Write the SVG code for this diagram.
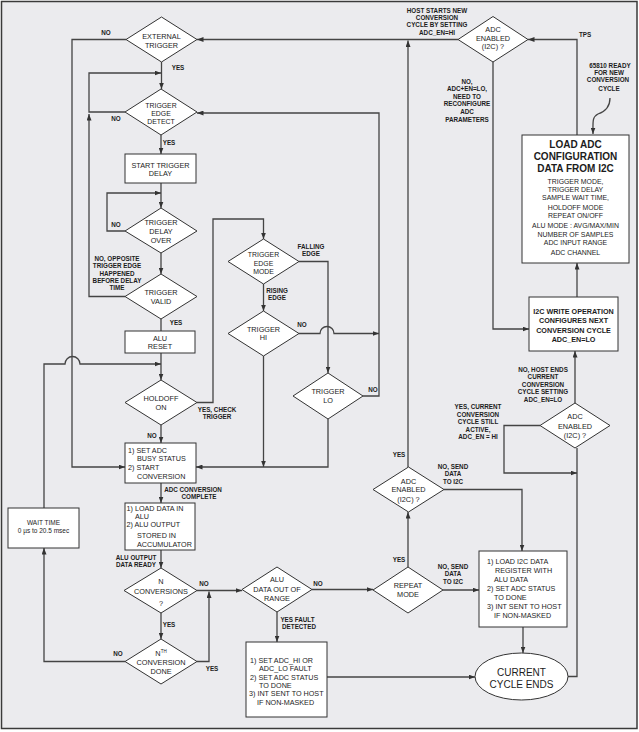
<svg xmlns="http://www.w3.org/2000/svg" width="639" height="732" viewBox="0 0 639 732">
<defs>
<marker id="ah" markerUnits="userSpaceOnUse" markerWidth="7" markerHeight="5" refX="6.5" refY="2.5" orient="auto">
<path d="M0,0 L6.5,2.5 L0,5 z" fill="#333"/>
</marker>
<style>
.bg{fill:#ebebee;stroke:#3a3a3a;stroke-width:1.5}
.nd{fill:#fff;stroke:#333;stroke-width:1}
.c{fill:none;stroke:#444;stroke-width:1.3}
.a{marker-end:url(#ah)}
text{font-family:"Liberation Sans",Arial,sans-serif;fill:#1c1c1c}
.t{font-size:7.3px;text-anchor:middle}
.s{font-size:6.9px}
.tl{font-size:7.2px}
.b{font-size:6.3px;font-weight:bold;text-anchor:middle}
.bt{font-size:7.2px;font-weight:bold;text-anchor:middle}
.h{font-size:10px;font-weight:bold;text-anchor:middle}
.e{font-size:10px;text-anchor:middle}
</style>
</defs>
<rect class="bg" x="1.5" y="1.5" width="635.5" height="727"/>

<g id="connectors">
<path class="c a" d="M458,39.5 H197"/>
<path class="c a" d="M126,39.5 H72 V467 H125"/>
<path class="c a" d="M161.5,62 V89"/>
<path class="c a" d="M125,112 H89 V73 H161"/>
<path class="c a" d="M161,135 V154"/>
<path class="c a" d="M161,183 V208"/>
<path class="c a" d="M125,231 H107 V193 H161"/>
<path class="c a" d="M161,253 V274"/>
<path class="c a" d="M125,296.5 H89 V114"/>
<path class="c" d="M161,319 V331"/>
<path class="c a" d="M161,353 V380"/>
<path class="c a" d="M44,508 V364 H65 A7.5,7.5 0 0 1 80,364 H161"/>
<path class="c a" d="M197,402.5 H213 V219 H263.5 V239"/>
<path class="c a" d="M161,425 V443"/>
<path class="c a" d="M299,261.5 H328 V373"/>
<path class="c a" d="M263.5,284 V311"/>
<path class="c a" d="M299,333.5 H320 A7,7 0 0 1 334,333.5 H379"/>
<path class="c a" d="M363,396 H379 V113 H197"/>
<path class="c a" d="M263.5,356 V467"/>
<path class="c a" d="M328,419 V467 H196"/>
<path class="c a" d="M161,483 V503"/>
<path class="c a" d="M161,550 V568"/>
<path class="c a" d="M197,590.5 H242"/>
<path class="c a" d="M161,613 V639"/>
<path class="c a" d="M197,661.5 H209 V591.5"/>
<path class="c a" d="M125,661.5 H44 V548"/>
<path class="c a" d="M312,589.5 H373"/>
<path class="c a" d="M277,612 V642"/>
<path class="c a" d="M327,677 H475"/>
<path class="c a" d="M408,567 V512"/>
<path class="c a" d="M443,590 H479"/>
<path class="c a" d="M444,489.5 H522 V551"/>
<path class="c a" d="M408,467 V40.5"/>
<path class="c a" d="M523,627 V653"/>
<path class="c" d="M568,676.5 H577 V448"/>
<path class="c a" d="M540,425.5 H504 V473 H577"/>
<path class="c a" d="M575,403 V351"/>
<path class="c a" d="M493,62 V329 H529"/>
<path class="c a" d="M577,297 V263"/>
<path class="c a" d="M577,135 V39.5 H528"/>
<path class="c a" d="M610,98 C610,108 604,112 598,114 C592,117 593,122 593,134"/>
</g>

<g id="ext"><polygon class="nd" points="126,39.5 161.5,17 197,39.5 161.5,62"/>
<text class="t" x="161.5" y="38.6">EXTERNAL</text><text class="t" x="161.5" y="47.9">TRIGGER</text></g>
<g id="ted"><polygon class="nd" points="125,112 161,89 197,112 161,135"/>
<text class="t s" x="161" y="108.4">TRIGGER</text><text class="t s" x="161" y="116">EDGE</text><text class="t s" x="161" y="123.6">DETECT</text></g>
<g id="std"><rect class="nd" x="125" y="154" width="71" height="29"/>
<text class="t" x="160.5" y="167.6">START TRIGGER</text><text class="t" x="160.5" y="176">DELAY</text></g>
<g id="tdo"><polygon class="nd" points="125,231 161,208 197,231 161,253"/>
<text class="t" x="161" y="225.3">TRIGGER</text><text class="t" x="161" y="233.6">DELAY</text><text class="t" x="161" y="242.6">OVER</text></g>
<g id="tv"><polygon class="nd" points="125,296.5 161,274 197,296.5 161,319"/>
<text class="t" x="161" y="295">TRIGGER</text><text class="t" x="161" y="303.6">VALID</text></g>
<g id="alureset"><rect class="nd" x="125" y="331" width="70" height="22"/>
<text class="t" x="160" y="341">ALU</text><text class="t" x="160" y="349">RESET</text></g>
<g id="holdoff"><polygon class="nd" points="125,402.5 161,380 197,402.5 161,425"/>
<text class="t" x="161" y="401">HOLDOFF</text><text class="t" x="161" y="410">ON</text></g>
<g id="setadc"><rect class="nd" x="125" y="443" width="71" height="40"/>
<text class="tl" x="128" y="453.3">1) SET ADC</text><text class="tl" x="137" y="461.2">BUSY STATUS</text>
<text class="tl" x="128" y="470">2) START</text><text class="tl" x="137" y="479.3">CONVERSION</text></g>
<g id="loaddata"><rect class="nd" x="125" y="503" width="70" height="47"/>
<text class="tl" x="126.5" y="511.4">1) LOAD DATA IN</text><text class="tl" x="135" y="519.3">ALU</text>
<text class="tl" x="126.5" y="527.2">2) ALU OUTPUT</text><text class="tl" x="137" y="538.4">STORED IN</text>
<text class="tl" x="137" y="547.2">ACCUMULATOR</text></g>
<g id="nconv"><polygon class="nd" points="124,590.5 161,568 197,590.5 161,613"/>
<text class="t" x="161" y="583.6">N</text><text class="t" x="161" y="594.3">CONVERSIONS</text><text class="t" x="161" y="606">?</text></g>
<g id="nth"><polygon class="nd" points="125,661.5 161,639 197,661.5 161,684"/>
<text class="t" x="161" y="655.8">N<tspan dy="-2.5" font-size="4.5">TH</tspan></text><text class="t" x="161" y="664.5">CONVERSION</text><text class="t" x="161" y="674.3">DONE</text></g>
<g id="wait"><rect class="nd" x="8" y="508" width="71" height="40"/>
<text class="t" x="43.5" y="525" style="font-size:6.5px">WAIT TIME</text><text class="t" x="43.5" y="533.3" style="font-size:6.5px">0 µs to 20.5 msec</text></g>
<g id="alurange"><polygon class="nd" points="242,589.5 277,567 312,589.5 277,612"/>
<text class="t" x="277" y="582.4">ALU</text><text class="t" x="277" y="591.7">DATA OUT OF</text><text class="t" x="277" y="601">RANGE</text></g>
<g id="fault"><rect class="nd" x="246" y="642" width="81" height="75"/>
<text class="tl s" x="250" y="663.3">1) SET ADC_HI OR</text><text class="tl s" x="259" y="671.2">ADC_LO FAULT</text>
<text class="tl s" x="250" y="679.8">2) SET ADC STATUS</text><text class="tl s" x="259" y="687.9">TO DONE</text>
<text class="tl s" x="249" y="696">3) INT SENT TO HOST</text><text class="tl s" x="257" y="705.3">IF NON-MASKED</text></g>
<g id="tem"><polygon class="nd" points="228,261.5 263.5,239 299,261.5 263.5,284"/>
<text class="t s" x="263.5" y="257.4">TRIGGER</text><text class="t s" x="263.5" y="265.5">EDGE</text><text class="t s" x="263.5" y="273.6">MODE</text></g>
<g id="thi"><polygon class="nd" points="228,333.5 263.5,311 299,333.5 263.5,356"/>
<text class="t" x="263.5" y="331.6">TRIGGER</text><text class="t" x="263.5" y="339.6">HI</text></g>
<g id="tlo"><polygon class="nd" points="293,396 328,373 363,396 328,419"/>
<text class="t" x="328" y="393.6">TRIGGER</text><text class="t" x="328" y="402.6">LO</text></g>
<g id="adctop"><polygon class="nd" points="458,39.5 493,16.5 528,39.5 493,62"/>
<text class="t" x="493" y="32">ADC</text><text class="t" x="493" y="40.5">ENABLED</text><text class="t" x="493" y="49.3">(I2C) ?</text></g>
<g id="loadadc"><rect class="nd" x="522" y="135" width="107" height="128"/>
<text class="h" x="575.5" y="147.6">LOAD ADC</text><text class="h" x="575.5" y="159.6">CONFIGURATION</text><text class="h" x="575.5" y="171.6">DATA FROM I2C</text>
<text class="t s" x="575.5" y="184.4">TRIGGER MODE,</text><text class="t s" x="575.5" y="192.2">TRIGGER DELAY</text>
<text class="t s" x="575.5" y="200">SAMPLE WAIT TIME,</text><text class="t s" x="575.5" y="209.8">HOLDOFF MODE</text>
<text class="t s" x="575.5" y="217.7">REPEAT ON/OFF</text><text class="t s" x="575.5" y="228.3">ALU MODE : AVG/MAX/MIN</text>
<text class="t s" x="575.5" y="236.5">NUMBER OF SAMPLES</text><text class="t s" x="575.5" y="244.6">ADC INPUT RANGE</text>
<text class="t s" x="575.5" y="255.3">ADC CHANNEL</text></g>
<g id="i2cwrite"><rect class="nd" x="529" y="297" width="89" height="54"/>
<text class="bt" x="573.5" y="314.3">I2C WRITE OPERATION</text><text class="bt" x="573.5" y="323.3">CONFIGURES NEXT</text>
<text class="bt" x="573.5" y="332.6">CONVERSION CYCLE</text><text class="bt" x="573.5" y="341.6">ADC_EN=LO</text></g>
<g id="adcright"><polygon class="nd" points="540,425.5 575,403 610,425.5 575,448"/>
<text class="t" x="575" y="418.6">ADC</text><text class="t" x="575" y="428.6">ENABLED</text><text class="t" x="575" y="438.3">(I2C) ?</text></g>
<g id="adcmid"><polygon class="nd" points="373,489.5 408.5,467 444,489.5 408.5,512"/>
<text class="t" x="408.5" y="484">ADC</text><text class="t" x="408.5" y="492.3">ENABLED</text><text class="t" x="408.5" y="501.6">(I2C) ?</text></g>
<g id="repeat"><polygon class="nd" points="373,590 408,567 443,590 408,613"/>
<text class="t" x="408" y="587.6">REPEAT</text><text class="t" x="408" y="597">MODE</text></g>
<g id="loadi2c"><rect class="nd" x="479" y="551" width="88" height="76"/>
<text class="tl" x="487" y="563.6">1) LOAD I2C DATA</text><text class="tl" x="495" y="572.6">REGISTER WITH</text>
<text class="tl" x="494" y="581.6">ALU DATA</text><text class="tl" x="487" y="591">2) SET ADC STATUS</text>
<text class="tl" x="494" y="599.8">TO DONE</text><text class="tl" x="487" y="608.6">3) INT SENT TO HOST</text>
<text class="tl" x="494" y="617.6">IF NON-MASKED</text></g>
<g id="cycleends"><ellipse class="nd" cx="521.5" cy="676.5" rx="46.5" ry="23.5"/>
<text class="e" x="521.5" y="676.2">CURRENT</text><text class="e" x="521.5" y="687.8">CYCLE ENDS</text></g>

<g id="labels">
<text class="b" x="106" y="35.2">NO</text>
<text class="b" x="178" y="70.2">YES</text>
<text class="b" x="116" y="121.2">NO</text>
<text class="b" x="169" y="145.2">YES</text>
<text class="b" x="116" y="227.2">NO</text>
<text class="b" x="117" y="261">NO, OPPOSITE</text><text class="b" x="117" y="268.3">TRIGGER EDGE</text>
<text class="b" x="117" y="275.6">HAPPENED</text><text class="b" x="117" y="282.9">BEFORE DELAY</text><text class="b" x="117" y="290.2">TIME</text>
<text class="b" x="176" y="324.9">YES</text>
<text class="b" x="217" y="411.8">YES, CHECK</text><text class="b" x="217" y="419.1">TRIGGER</text>
<text class="b" x="152" y="437.9">NO</text>
<text class="b" x="311" y="249.1">FALLING</text><text class="b" x="311" y="256.4">EDGE</text>
<text class="b" x="277" y="292.7">RISING</text><text class="b" x="277" y="300">EDGE</text>
<text class="b" x="302" y="326.5">NO</text>
<text class="b" x="373" y="392.2">NO</text>
<text class="b" x="437" y="12.6">HOST STARTS NEW</text><text class="b" x="437" y="19.9">CONVERSION</text>
<text class="b" x="437" y="27.2">CYCLE BY SETTING</text><text class="b" x="437" y="34.5">ADC_EN=HI</text>
<text class="b" x="585" y="36.5">TPS</text>
<text class="b" x="467" y="83.9">NO,</text><text class="b" x="467" y="91.3">ADC+EN=LO,</text><text class="b" x="467" y="98.7">NEED TO</text>
<text class="b" x="467" y="106.1">RECONFIGURE</text><text class="b" x="467" y="113.8">ADC</text><text class="b" x="467" y="121.5">PARAMETERS</text>
<text class="b" x="610" y="67.6">65810 READY</text><text class="b" x="609" y="74.9">FOR NEW</text>
<text class="b" x="608" y="82.2">CONVERSION</text><text class="b" x="609" y="90.7">CYCLE</text>
<text class="b" x="543" y="372">NO, HOST ENDS</text><text class="b" x="543" y="379.3">CURRENT</text>
<text class="b" x="543" y="386.8">CONVERSION</text><text class="b" x="543" y="394.3">CYCLE SETTING</text><text class="b" x="543" y="401.8">ADC_EN=LO</text>
<text class="b" x="478" y="408.8">YES, CURRENT</text><text class="b" x="478" y="416.6">CONVERSION</text>
<text class="b" x="478" y="424.1">CYCLE STILL</text><text class="b" x="478" y="431.6">ACTIVE,</text><text class="b" x="478" y="439.1">ADC_EN = HI</text>
<text class="b" x="399" y="457.2">YES</text>
<text class="b" x="453" y="468.7">NO, SEND</text><text class="b" x="453" y="476.1">DATA</text><text class="b" x="453" y="483.6">TO I2C</text>
<text class="b" x="399" y="561.5">YES</text>
<text class="b" x="453" y="568.9">NO, SEND</text><text class="b" x="453" y="576.3">DATA</text><text class="b" x="453" y="583.7">TO I2C</text>
<text class="b" x="193" y="491.5">ADC CONVERSION</text><text class="b" x="199" y="498.9">COMPLETE</text>
<text class="b" x="136" y="559.5">ALU OUTPUT</text><text class="b" x="136" y="567.2">DATA READY</text>
<text class="b" x="204" y="586.2">NO</text>
<text class="b" x="169" y="627.2">YES</text>
<text class="b" x="212" y="670.5">YES</text>
<text class="b" x="118" y="656.2">NO</text>
<text class="b" x="318" y="586.2">NO</text>
<text class="b" x="297.5" y="621.5">YES FAULT</text><text class="b" x="299" y="628.9">DETECTED</text>
</g>
</svg>
